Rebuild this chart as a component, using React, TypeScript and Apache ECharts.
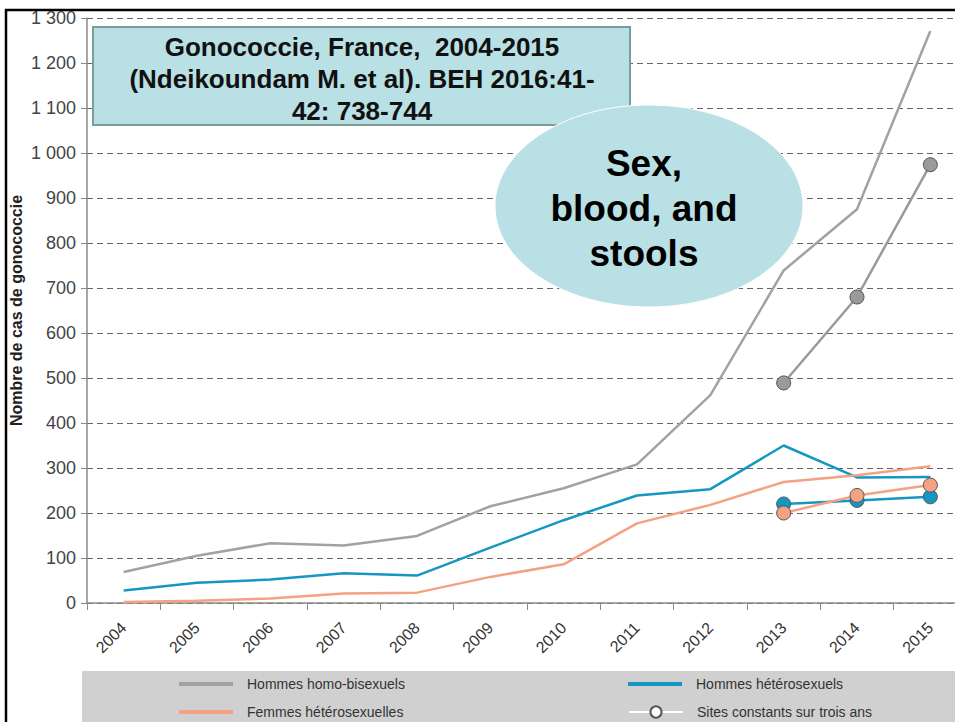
import React, { useEffect, useRef } from "react";
import * as echarts from "echarts";

const years = ["2004", "2005", "2006", "2007", "2008", "2009", "2010", "2011", "2012", "2013", "2014", "2015"];
const hommesHomoBi = [69, 105, 133, 128, 149, 215, 255, 308, 462, 739, 875, 1271];
const hommesHetero = [28, 45, 52, 66, 61, 123, 184, 239, 253, 350, 279, 280];
const femmesHetero = [2, 5, 10, 21, 23, 58, 86, 177, 218, 269, 284, 304];
const sitesHomoBi = [null, null, null, null, null, null, null, null, null, 489, 680, 974];
const sitesHommesHetero = [null, null, null, null, null, null, null, null, null, 220, 228, 236];
const sitesFemmesHetero = [null, null, null, null, null, null, null, null, null, 200, 239, 262];

const boxLines = ["Gonococcie, France,  2004-2015", "(Ndeikoundam M. et al). BEH 2016:41-", "42: 738-744"];
const bubbleLines = ["Sex,", "blood, and", "stools"];

const GRAY = "#a2a2a2";
const BLUE = "#1597c2";
const ORANGE = "#f4a283";
const NARROW = "'Liberation Sans Narrow', 'Liberation Sans', sans-serif";
const BOLDF = "'Liberation Sans', Arial, sans-serif";
const BAR_ICON = "path://M0,0 L54,0 L54,4 L0,4 Z";

export default function App() {
  const ref = useRef<HTMLDivElement>(null);
  useEffect(() => {
    if (!ref.current) return;
    const chart = echarts.init(ref.current, undefined, { renderer: "svg" });
    const marker = (color: string) => ({
      type: "line",
      symbol: "circle",
      symbolSize: 14,
      connectNulls: false,
      itemStyle: { color, borderColor: "#555", borderWidth: 1 },
      lineStyle: { color, width: 2.5 },
      z: 5,
    });
    const legendText = { fontSize: 14, color: "#333", fontFamily: NARROW, padding: [0, 0, 0, 9] };
    const oneLegend = (name: string, left: number, top: number, bar: boolean) => ({
      left,
      top,
      padding: 0,
      orient: "horizontal",
      itemWidth: 54,
      itemHeight: bar ? 4 : 14,
      data: [bar ? { name, icon: BAR_ICON } : { name }],
      textStyle: legendText,
      selectedMode: false,
    });
    chart.setOption({
      animation: false,
      backgroundColor: "#ffffff",
      grid: { left: 87, top: 18, height: 585, width: 880, containLabel: false, outerBoundsMode: "none" },
      xAxis: {
        type: "category",
        data: years,
        boundaryGap: true,
        axisLine: { lineStyle: { color: "#8a8a8a", width: 1.5 } },
        axisTick: { show: true, length: 7, lineStyle: { color: "#8a8a8a" } },
        axisLabel: { rotate: 45, margin: 22, color: "#333", fontSize: 16, fontFamily: NARROW },
        splitLine: { show: false },
      },
      yAxis: {
        type: "value",
        min: 0,
        max: 1300,
        interval: 100,
        name: "Nombre de cas de gonococcie",
        nameLocation: "middle",
        nameGap: 63,
        nameMoveOverlap: false,
        nameTextStyle: { fontSize: 16, fontWeight: "bold", color: "#222", fontFamily: BOLDF },
        axisLine: { show: true, lineStyle: { color: "#8a8a8a", width: 1.5 } },
        axisTick: { show: true, length: 6, lineStyle: { color: "#8a8a8a" } },
        axisLabel: {
          color: "#444",
          fontSize: 18,
          margin: 11,
          fontFamily: NARROW,
          formatter: (v: number) =>
            v >= 1000 ? Math.floor(v / 1000) + " " + String(v % 1000).padStart(3, "0") : String(v),
        },
        splitLine: { show: true, lineStyle: { color: "#666", type: [6, 4], width: 1 } },
      },
      legend: [
        oneLegend("Hommes homo-bisexuels", 179, 677, true),
        oneLegend("Femmes hétérosexuelles", 179, 705, true),
        oneLegend("Hommes hétérosexuels", 628, 677, true),
        oneLegend("Sites constants sur trois ans", 628, 705, false),
      ],
      series: [
        { name: "Hommes homo-bisexuels", type: "line", data: hommesHomoBi, symbol: "none", lineStyle: { color: GRAY, width: 2.5 }, itemStyle: { color: GRAY } },
        { name: "Hommes hétérosexuels", type: "line", data: hommesHetero, symbol: "none", lineStyle: { color: BLUE, width: 2.5 }, itemStyle: { color: BLUE } },
        { name: "Femmes hétérosexuelles", type: "line", data: femmesHetero, symbol: "none", lineStyle: { color: ORANGE, width: 2.5 }, itemStyle: { color: ORANGE } },
        {
          name: "Sites constants sur trois ans",
          type: "line",
          data: [],
          symbol: "circle",
          symbolSize: 12,
          lineStyle: { color: "#ffffff", width: 3 },
          itemStyle: { color: "#ffffff", borderColor: "#555", borderWidth: 1 },
        },
        { name: "sites-homo", data: sitesHomoBi, ...marker("#9a9a9a") },
        { name: "sites-hommes-hetero", data: sitesHommesHetero, ...marker(BLUE) },
        { name: "sites-femmes-hetero", data: sitesFemmesHetero, ...marker(ORANGE) },
      ],
      graphic: [
        { type: "rect", z: -10, silent: true, shape: { x: 82, y: 671, width: 873, height: 51 }, style: { fill: "#d0d0d0" } },
        { type: "rect", z: 100, silent: true, shape: { x: 0, y: 0, width: 955, height: 9 }, style: { fill: "#ffffff" } },
        { type: "polyline", z: 101, silent: true, shape: { points: [[6, 722], [6, 10], [955, 10]] }, style: { stroke: "#000", lineWidth: 2.5, fill: null } },
        {
          type: "rect",
          z: 100,
          silent: true,
          shape: { x: 93, y: 27, width: 537, height: 98 },
          style: { fill: "#b9e0e4", stroke: "#7c9c9c", lineWidth: 2 },
        },
        ...boxLines.map((t, i) => ({
          type: "text",
          z: 101,
          silent: true,
          x: 362,
          y: 47 + i * 32,
          style: { text: t, fill: "#111", font: `bold 26px ${BOLDF}`, align: "center", verticalAlign: "middle" },
        })),
        {
          type: "ellipse",
          z: 102,
          silent: true,
          shape: { cx: 649, cy: 206, rx: 154, ry: 101 },
          style: { fill: "#b9e0e4", stroke: "#ffffff", lineWidth: 1 },
        },
        ...bubbleLines.map((t, i) => ({
          type: "text",
          z: 103,
          silent: true,
          x: 644,
          y: 163 + i * 45,
          style: { text: t, fill: "#000", font: `bold 37px ${BOLDF}`, align: "center", verticalAlign: "middle" },
        })),
      ],
    });
    return () => chart.dispose();
  }, []);
  return <div ref={ref} style={{ position: "fixed", left: 0, top: 0, width: 955, height: 722 }} />;
}
